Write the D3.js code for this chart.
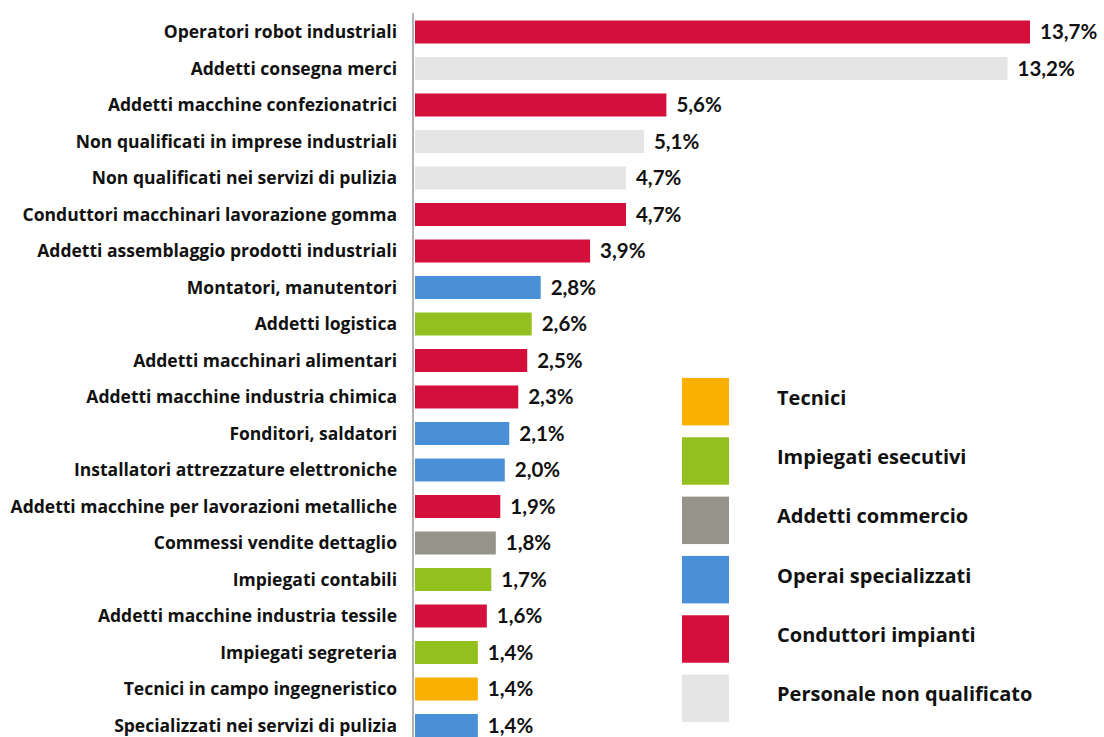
<!DOCTYPE html>
<html>
<head>
<meta charset="utf-8">
<script src="https://cdn.jsdelivr.net/npm/d3@7"></script>
<style>
  body { margin: 0; background: #fff; }
  svg { display: block; font-family: Lato, "Open Sans", sans-serif; font-weight: bold; }
  .lbl { font-family: "Open Sans", Lato, sans-serif; }
</style>
</head>
<body>
<svg id="chart" width="1104" height="737"></svg>
<script>
const categories = [
    "Operatori robot industriali",
    "Addetti consegna merci",
    "Addetti macchine confezionatrici",
    "Non qualificati in imprese industriali",
    "Non qualificati nei servizi di pulizia",
    "Conduttori macchinari lavorazione gomma",
    "Addetti assemblaggio prodotti industriali",
    "Montatori, manutentori",
    "Addetti logistica",
    "Addetti macchinari alimentari",
    "Addetti macchine industria chimica",
    "Fonditori, saldatori",
    "Installatori attrezzature elettroniche",
    "Addetti macchine per lavorazioni metalliche",
    "Commessi vendite dettaglio",
    "Impiegati contabili",
    "Addetti macchine industria tessile",
    "Impiegati segreteria",
    "Tecnici in campo ingegneristico",
    "Specializzati nei servizi di pulizia"
];
const values = [13.7, 13.2, 5.6, 5.1, 4.7, 4.7, 3.9, 2.8, 2.6, 2.5, 2.3, 2.1, 2.0, 1.9, 1.8, 1.7, 1.6, 1.4, 1.4, 1.4];
const groups = [
    "Conduttori impianti", "Personale non qualificato", "Conduttori impianti",
    "Personale non qualificato", "Personale non qualificato", "Conduttori impianti",
    "Conduttori impianti", "Operai specializzati", "Impiegati esecutivi",
    "Conduttori impianti", "Conduttori impianti", "Operai specializzati",
    "Operai specializzati", "Conduttori impianti", "Addetti commercio",
    "Impiegati esecutivi", "Conduttori impianti", "Impiegati esecutivi",
    "Tecnici", "Operai specializzati"
];
const legendGroups = ["Tecnici", "Impiegati esecutivi", "Addetti commercio",
    "Operai specializzati", "Conduttori impianti", "Personale non qualificato"];
const legendColors = ["#f9b000", "#93c01f", "#96948a", "#4a90d9", "#d40f3c", "#e5e5e5"];

let data = categories.map(function (c, i) {
    return { name: c, value: values[i], group: groups[i] };
});

let svg = d3.select("#chart");
let x0 = 415;

let x = d3.scaleLinear()
    .domain([0, 13.7])
    .range([x0, 1030]);

let y = d3.scaleBand()
    .domain(categories)
    .range([7, 750.5])
    .padding(0.37);

let color = d3.scaleOrdinal()
    .domain(legendGroups)
    .range(legendColors);

let fmt = function (v) { return d3.format(".1f")(v).replace(".", ",") + "%"; };

// bars
svg.append("g")
    .selectAll("rect")
    .data(data)
    .join("rect")
    .attr("x", x(0))
    .attr("y", function (d) { return y(d.name); })
    .attr("width", function (d) { return x(d.value) - x(0); })
    .attr("height", y.bandwidth())
    .attr("fill", function (d) { return color(d.group); });

// axis line
svg.append("line")
    .attr("x1", x0 - 2).attr("x2", x0 - 2)
    .attr("y1", 13).attr("y2", 737)
    .attr("stroke", "#999")
    .attr("stroke-width", 1.5);

// category labels
svg.append("g")
    .selectAll("text")
    .data(data)
    .join("text")
    .attr("class", "lbl")
    .attr("x", 397)
    .attr("y", function (d) { return y(d.name) + y.bandwidth() / 2; })
    .attr("dy", "0.35em")
    .attr("text-anchor", "end")
    .attr("font-size", 17.5)
    .attr("fill", "#111")
    .text(function (d) { return d.name; });

// value labels
svg.append("g")
    .selectAll("text")
    .data(data)
    .join("text")
    .attr("x", function (d) { return x(d.value) + 10; })
    .attr("y", function (d) { return y(d.name) + y.bandwidth() / 2; })
    .attr("dy", "0.35em")
    .attr("font-size", 20.5)
    .attr("fill", "#111")
    .text(function (d) { return fmt(d.value); });

// legend
let ly = d3.scaleBand()
    .domain(legendGroups)
    .range([372, 728])
    .paddingInner(0.2)
    .paddingOuter(0.1);

let legend = svg.append("g")
    .selectAll("g")
    .data(legendGroups)
    .join("g")
    .attr("transform", function (d) { return "translate(682," + ly(d) + ")"; });

legend.append("rect")
    .attr("width", 47)
    .attr("height", ly.bandwidth())
    .attr("fill", function (d) { return color(d); });

legend.append("text")
    .attr("class", "lbl")
    .attr("x", 95)
    .attr("y", ly.bandwidth() / 2 - 4)
    .attr("dy", "0.35em")
    .attr("font-size", 20)
    .attr("fill", "#111")
    .text(function (d) { return d; });
</script>
</body>
</html>
